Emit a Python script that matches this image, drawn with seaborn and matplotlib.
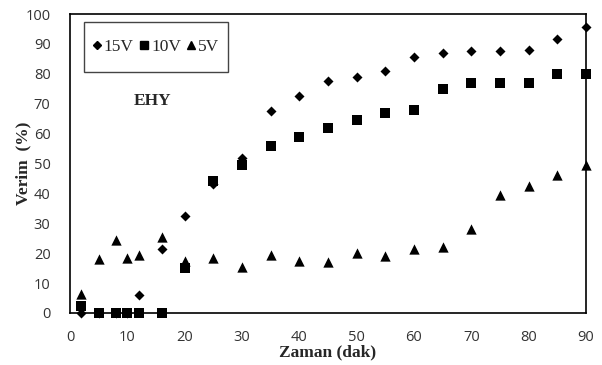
import matplotlib
matplotlib.use("Agg")
import matplotlib.pyplot as plt
import seaborn as sns
import pandas as pd
from matplotlib.lines import Line2D
from matplotlib.patches import Rectangle

time = [2, 5, 8, 10, 12, 16, 20, 25, 30, 35, 40, 45, 50, 55, 60, 65, 70, 75, 80, 85, 90]
v15 = [0, 0, 0, 0, 6, 21.5, 32.5, 43, 52, 67.5, 72.5, 77.5, 79, 81, 85.5, 87, 87.5, 87.5, 88, 91.5, 95.5]
v10 = [2.5, 0, 0, 0, 0, 0, 15, 44, 49.5, 56, 59, 62, 64.5, 67, 68, 75, 77, 77, 77, 80, 80]
v5 = [6.5, 18, 24.5, 18.5, 19.5, 25.5, 17.5, 18.5, 15.5, 19.5, 17.5, 17, 20, 19, 21.5, 22, 28, 39.5, 42.5, 46, 49.5]
series_names = ["15V", "10V", "5V"]
x_ticks = [0, 10, 20, 30, 40, 50, 60, 70, 80, 90]
y_ticks = [0, 10, 20, 30, 40, 50, 60, 70, 80, 90, 100]

df = pd.DataFrame({
    "Zaman": time * 3,
    "Verim": v15 + v10 + v5,
    "Seri": [series_names[0]] * len(time) + [series_names[1]] * len(time) + [series_names[2]] * len(time),
})

sns.set_style("white")
fig = plt.figure(figsize=(6.02, 3.65), dpi=100)
ax = fig.add_axes([70 / 602, 52 / 365, 516 / 602, 299 / 365])

markers = {"15V": "D", "10V": "s", "5V": "^"}
sizes = {"15V": 26, "10V": 55, "5V": 55}
for name in series_names:
    sub = df[df["Seri"] == name]
    sns.scatterplot(data=sub, x="Zaman", y="Verim", marker=markers[name], s=sizes[name],
                    color="black", edgecolor="black", linewidth=0, ax=ax, clip_on=False, zorder=3)

ax.set_xlim(0, 90)
ax.set_ylim(0, 100)
ax.set_xticks(x_ticks)
ax.set_yticks(y_ticks)
tick_font = {"family": "Open Sans", "size": 10.5}
ax.set_xticklabels([str(t) for t in x_ticks], fontdict=tick_font, color="#333333")
ax.set_yticklabels([str(t) for t in y_ticks], fontdict=tick_font, color="#333333")
ax.tick_params(direction="in", length=5, width=1, color="black")
ax.tick_params(axis="y", pad=14)
ax.tick_params(axis="x", pad=12)
for sp in ax.spines.values():
    sp.set_visible(True)
    sp.set_color("black")
    sp.set_linewidth(1.2)

ax.set_xlabel("Zaman (dak)", fontfamily="Liberation Serif", fontweight="bold", fontsize=12.5, labelpad=0)
ax.set_ylabel("Verim  (%)", fontfamily="Liberation Serif", fontweight="bold", fontsize=12.5, labelpad=-4)

ax.text(0.159, 0.709, "EHY", transform=ax.transAxes, fontfamily="Liberation Serif",
        fontweight="bold", fontsize=12.5, ha="center", va="center")

# legend frame
x0, x1 = (84 - 70) / 516, (228 - 70) / 516
y0, y1 = (313 - 72) / 299, (313 - 22) / 299
ax.add_patch(Rectangle((x0, y0), x1 - x0, y1 - y0, transform=ax.transAxes, fill=True,
                       facecolor="white", edgecolor="#444444", linewidth=1.0, zorder=4, clip_on=False))

handles = [
    Line2D([], [], marker="D", color="black", linestyle="", markersize=4),
    Line2D([], [], marker="s", color="black", linestyle="", markersize=6),
    Line2D([], [], marker="^", color="black", linestyle="", markersize=6),
]
leg = ax.legend(handles, series_names, ncol=3, loc="center", bbox_to_anchor=((x0 + x1) / 2, (y0 + y1) / 2),
                prop={"family": "Liberation Serif", "size": 12.5}, frameon=False,
                handlelength=0.5, handletextpad=0.15, columnspacing=0.35, borderpad=0, borderaxespad=0)
leg.set_zorder(5)

fig.savefig("out.png", dpi=100)
